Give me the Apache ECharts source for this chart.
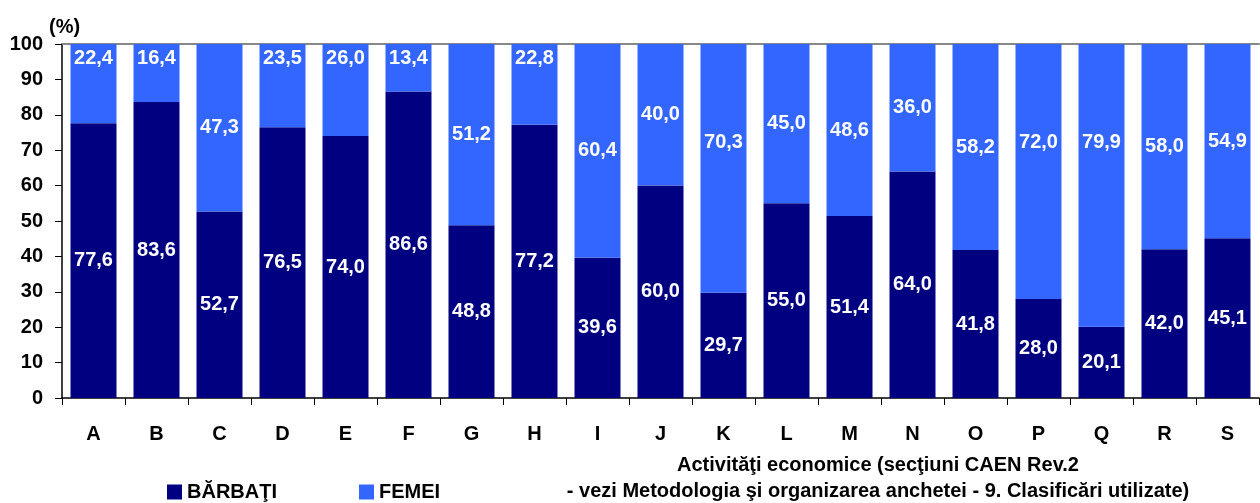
<!DOCTYPE html>
<html>
<head>
<meta charset="utf-8">
<script src="https://cdn.jsdelivr.net/npm/echarts@6/dist/echarts.min.js"></script>
<style>html,body{margin:0;padding:0;background:#fff}#c{width:1260px;height:503px}</style>
</head>
<body>
<div id="c"></div>
<script>
const categories = ['A','B','C','D','E','F','G','H','I','J','K','L','M','N','O','P','Q','R','S'];
const barbati = [77.6,83.6,52.7,76.5,74.0,86.6,48.8,77.2,39.6,60.0,29.7,55.0,51.4,64.0,41.8,28.0,20.1,42.0,45.1];
const femei = [22.4,16.4,47.3,23.5,26.0,13.4,51.2,22.8,60.4,40.0,70.3,45.0,48.6,36.0,58.2,72.0,79.9,58.0,54.9];
const yTicks = [0,10,20,30,40,50,60,70,80,90,100];
const seriesNames = ['BĂRBAŢI','FEMEI'];
const axisTitle = 'Activităţi economice (secţiuni CAEN Rev.2\n- vezi Metodologia şi organizarea anchetei - 9. Clasificări utilizate)';

const FONT = '"Liberation Sans", Arial, sans-serif';
const fmt = v => v.toFixed(1).replace('.', ',');

const chart = echarts.init(document.getElementById('c'));
const lblBase = {show:true,color:'#fff',fontFamily:FONT,fontWeight:'bold',fontSize:20};

const femeiData = femei.map(v => {
  let label;
  if (v < 30) label = {position:'insideTop', distance:4};
  else if (v > 65) label = {position:'insideTop', distance:88};
  else label = {position:'inside'};
  return {value:v, label};
});

chart.setOption({
  animation:false,
  textStyle:{fontFamily:FONT},
  grid:{left:62,right:1,top:44,bottom:105,containLabel:false},
  legend:{
    left:162, top:477, itemWidth:15, itemHeight:15, itemGap:82,
    icon:'rect',
    textStyle:{fontFamily:FONT,fontWeight:'bold',fontSize:20,color:'#000'},
    data:seriesNames
  },
  graphic:[
    {type:'text',left:49,top:17,style:{text:'(%)',font:'bold 20px "Liberation Sans", Arial',fill:'#000'}},
    {type:'text',x:878,y:452,style:{text:axisTitle,font:'bold 20px "Liberation Sans", Arial',fill:'#000',align:'center',textAlign:'center',lineHeight:26}}
  ],
  xAxis:[{
    type:'category', data:categories,
    axisLine:{lineStyle:{color:'#000',width:1.5}},
    axisTick:{show:true,length:7,lineStyle:{color:'#000'}},
    axisLabel:{color:'#000',fontFamily:FONT,fontWeight:'bold',fontSize:20,margin:26}
  },{
    type:'category', data:categories, position:'top',
    axisLine:{lineStyle:{color:'#888',width:2}},
    axisTick:{show:false}, axisLabel:{show:false}
  }],
  yAxis:{
    type:'value', min:0, max:100, interval:10,
    axisLine:{show:true,lineStyle:{color:'#000',width:1.5}},
    axisTick:{show:true,length:7,lineStyle:{color:'#000'}},
    splitLine:{show:false},
    axisLabel:{color:'#000',fontFamily:FONT,fontWeight:'bold',fontSize:20,margin:19,
      formatter:v => yTicks.includes(v) ? String(v) : ''}
  },
  series:[
    {name:seriesNames[0],type:'bar',stack:'s',barWidth:'73%',data:barbati,
     itemStyle:{color:'#000080'},
     label:Object.assign({},lblBase,{position:'inside',formatter:p=>fmt(p.value)})},
    {name:seriesNames[1],type:'bar',stack:'s',barWidth:'73%',data:femeiData,
     itemStyle:{color:'#3366FF'},
     label:Object.assign({},lblBase,{formatter:p=>fmt(p.value)})}
  ]
});
</script>
</body>
</html>
